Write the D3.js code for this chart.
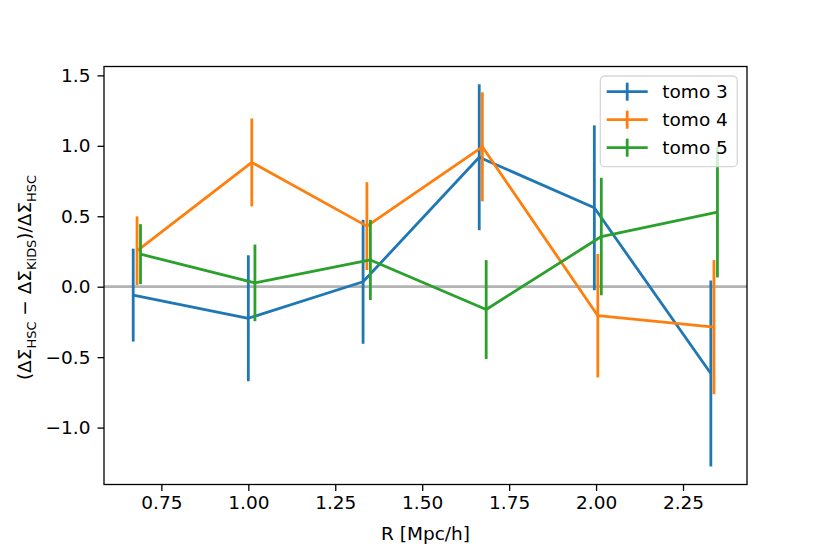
<!DOCTYPE html>
<html>
<head>
<meta charset="utf-8">
<script src="https://cdn.jsdelivr.net/npm/d3@7"></script>
<style>
  html, body { margin: 0; padding: 0; background: #fff; }
  svg { display: block; }
  text { font-family: "DejaVu Sans", sans-serif; fill: #000; }
</style>
</head>
<body>
<div id="chart"></div>
<script>
// ---- data ----
const seriesNames = ["tomo 3", "tomo 4", "tomo 5"];
const seriesColors = ["#1f77b4", "#ff7f0e", "#2ca02c"];
const rTomo3 = [0.669, 1.000, 1.330, 1.664, 1.995, 2.330];
const rTomo4 = [0.680, 1.010, 1.341, 1.673, 2.005, 2.339];
const rTomo5 = [0.690, 1.019, 1.351, 1.684, 2.015, 2.349];
const tomo3 = [-0.060, -0.224, 0.035, 0.919, 0.560, -0.616];
const err3  = [0.330, 0.447, 0.440, 0.518, 0.585, 0.660];
const tomo4 = [0.255, 0.882, 0.430, 0.993, -0.206, -0.287];
const err4  = [0.244, 0.312, 0.312, 0.387, 0.438, 0.476];
const tomo5 = [0.231, 0.027, 0.190, -0.162, 0.356, 0.530];
const err5  = [0.213, 0.272, 0.285, 0.351, 0.417, 0.464];
const xTicks = [0.75, 1.00, 1.25, 1.50, 1.75, 2.00, 2.25];
const yTicks = [-1.0, -0.5, 0.0, 0.5, 1.0, 1.5];
const xLabel = "R [Mpc/h]";

const series = [
  { name: seriesNames[0], color: seriesColors[0], r: rTomo3, v: tomo3, e: err3 },
  { name: seriesNames[1], color: seriesColors[1], r: rTomo4, v: tomo4, e: err4 },
  { name: seriesNames[2], color: seriesColors[2], r: rTomo5, v: tomo5, e: err5 }
];

// ---- layout ----
const W = 830, H = 554;
const pL = 104, pR = 747, pT = 66.5, pB = 484.5;
const FS = 18.5, LW = 2.8;

const svg = d3.select("#chart").append("svg").attr("width", W).attr("height", H);

const x = d3.scaleLinear().domain([0.585, 2.434]).range([pL, pR]);
const y = d3.scaleLinear().domain([-1.404, 1.563]).range([pB, pT]);

// zero line
svg.append("line")
  .attr("x1", pL).attr("x2", pR)
  .attr("y1", y(0)).attr("y2", y(0))
  .attr("stroke", "#b3b3b3").attr("stroke-width", LW);

// series
const lineGen = d3.line().x(d => x(d[0])).y(d => y(d[1]));
series.forEach(s => {
  const pts = s.r.map((r, i) => [r, s.v[i], s.e[i]]);
  const g = svg.append("g");
  g.selectAll("line.err").data(pts).enter().append("line")
    .attr("class", "err")
    .attr("x1", d => x(d[0])).attr("x2", d => x(d[0]))
    .attr("y1", d => y(d[1] - d[2])).attr("y2", d => y(d[1] + d[2]))
    .attr("stroke", s.color).attr("stroke-width", LW);
  g.append("path").datum(pts)
    .attr("d", lineGen)
    .attr("fill", "none")
    .attr("stroke", s.color).attr("stroke-width", LW)
    .attr("stroke-linejoin", "round");
});

// axes
const tickLen = 6.5;
const xAxis = d3.axisBottom(x).tickValues(xTicks).tickFormat(d3.format(".2f"))
  .tickSizeInner(tickLen).tickSizeOuter(0).tickPadding(5);
const yAxis = d3.axisLeft(y).tickValues(yTicks).tickFormat(d3.format(".1f"))
  .tickSizeInner(tickLen).tickSizeOuter(0).tickPadding(7);

const gx = svg.append("g").attr("transform", `translate(0,${pB})`).call(xAxis);
const gy = svg.append("g").attr("transform", `translate(${pL},0)`).call(yAxis);
[gx, gy].forEach(g => {
  g.select(".domain").remove();
  g.selectAll(".tick line").attr("stroke", "#000").attr("stroke-width", 1.3);
  g.selectAll(".tick text").attr("font-size", FS).attr("font-family", "DejaVu Sans").attr("fill", "#000");
});

// frame (spines)
svg.append("rect")
  .attr("x", pL).attr("y", pT)
  .attr("width", pR - pL).attr("height", pB - pT)
  .attr("fill", "none").attr("stroke", "#000").attr("stroke-width", 1.3);

// x label
svg.append("text")
  .attr("x", (pL + pR) / 2).attr("y", 539.5)
  .attr("text-anchor", "middle").attr("font-size", FS)
  .text(xLabel);

// y label with subscripts
const yl = svg.append("text")
  .attr("transform", `translate(31,${(pT + pB) / 2 + 2}) rotate(-90)`)
  .attr("text-anchor", "middle").attr("font-size", FS);
const subFS = FS * 0.7, subDy = 5;
const parts = [
  ["(ΔΣ", false], ["HSC", true], [" − ΔΣ", false], ["KiDS", true],
  [")/ΔΣ", false], ["HSC", true]
];
let shifted = false;
parts.forEach(([t, sub]) => {
  const ts = yl.append("tspan").text(t);
  if (sub) {
    ts.attr("font-size", subFS).attr("dy", subDy);
    shifted = true;
  } else {
    if (shifted) { ts.attr("dy", -subDy); shifted = false; }
  }
});

// legend
const lg = svg.append("g");
lg.append("rect")
  .attr("x", 600.3).attr("y", 76).attr("width", 137).attr("height", 90.7)
  .attr("rx", 4.5).attr("ry", 4.5)
  .attr("fill", "#fff").attr("fill-opacity", 0.8)
  .attr("stroke", "#d6d6d6").attr("stroke-width", 1.3);
series.forEach((s, i) => {
  const cy = 91.7 + i * 28;
  lg.append("line").attr("x1", 606.7).attr("x2", 647.7).attr("y1", cy).attr("y2", cy)
    .attr("stroke", s.color).attr("stroke-width", LW);
  lg.append("line").attr("x1", 627.2).attr("x2", 627.2).attr("y1", cy - 9).attr("y2", cy + 9)
    .attr("stroke", s.color).attr("stroke-width", LW);
  lg.append("text").attr("x", 662.3).attr("y", cy + 6.7)
    .attr("font-size", FS).text(s.name);
});
</script>
</body>
</html>
